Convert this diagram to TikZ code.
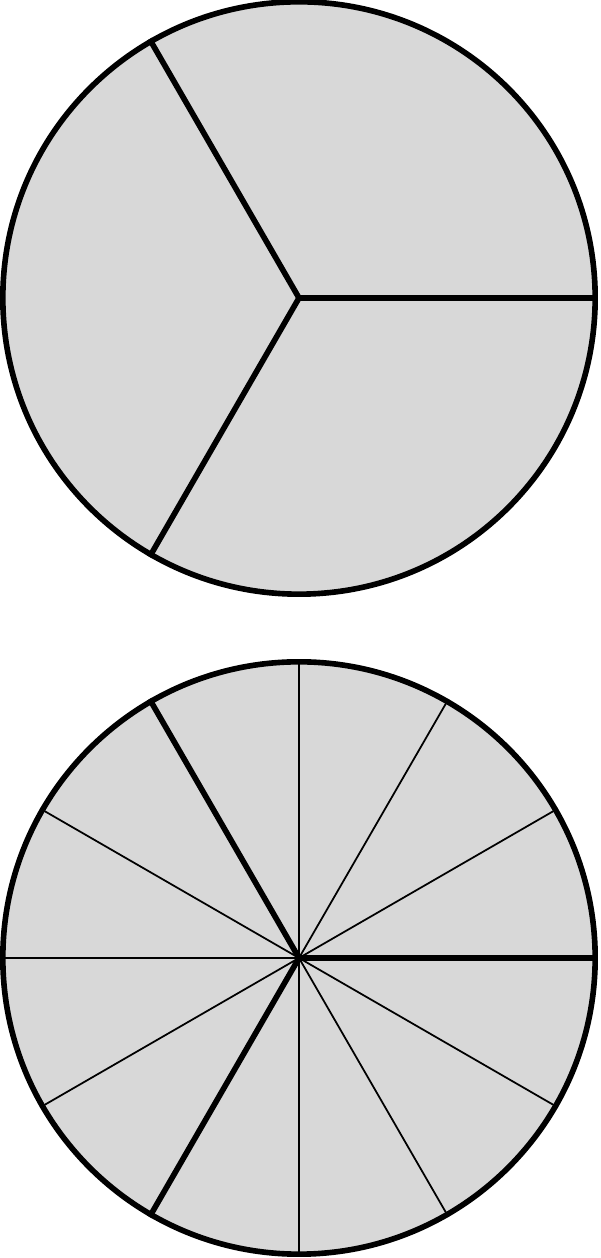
\documentclass[tikz,border=0pt]{standalone}
\usepackage{tikz}
\definecolor{pie}{HTML}{D8D8D8}

\begin{document}
\begin{tikzpicture}[
  x=0.01cm, y=0.01cm,
  disc/.style={circle, draw, fill=pie, line width=1.6pt, minimum size=5.92cm, inner sep=0pt},
  thickcut/.style={line width=1.6pt},
  thincut/.style={line width=0.5pt}
]
  \useasboundingbox (0,0) rectangle (600,1258);

  % thirds
  \node[disc] (top) at (299,960) {};
  \foreach \a in {0,120,240}
    \draw[thickcut] (top.center) -- (top.\a);

  % twelfths, thirds marked
  \node[disc] (bottom) at (299,300) {};
  \foreach \a in {30,60,...,330}
    \draw[thincut] (bottom.center) -- (bottom.\a);
  \foreach \a in {0,120,240}
    \draw[thickcut] (bottom.center) -- (bottom.\a);
\end{tikzpicture}
\end{document}
